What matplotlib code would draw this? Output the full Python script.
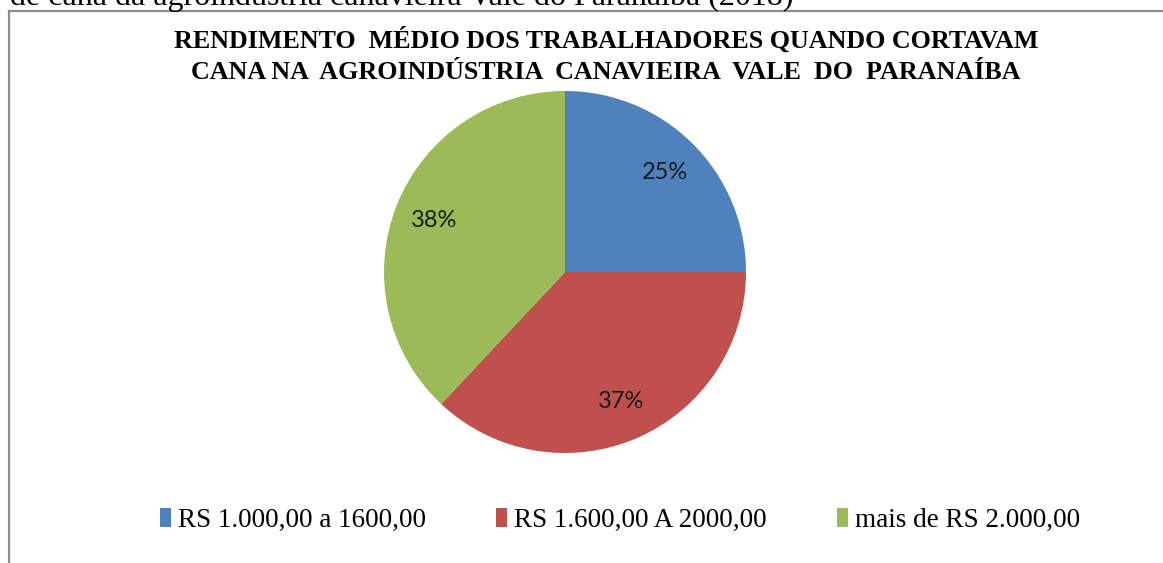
import matplotlib
matplotlib.use("Agg")
import matplotlib.pyplot as plt
from matplotlib.lines import Line2D

# data
faixas = ["RS 1.000,00 a 1600,00", "RS 1.600,00 A 2000,00", "mais de RS 2.000,00"]
percentuais = [25, 37, 38]
cores = ["#4F81BD", "#C0504D", "#9BBB59"]

titulo_l1 = "RENDIMENTO  MÉDIO DOS TRABALHADORES QUANDO CORTAVAM"
titulo_l2 = "CANA NA  AGROINDÚSTRIA  CANAVIEIRA  VALE  DO  PARANAÍBA"
legenda_sup = "de cana da agroindústria canavieira Vale do Paranaíba (2018)"

W, H = 1163, 563
fig = plt.figure(figsize=(W / 100, H / 100), dpi=100)

# caption line cut at the top of the page
fig.text(10 / W, 1 - 5 / H, legenda_sup, family="Liberation Serif", fontsize=23,
         ha="left", va="baseline")

# chart frame (only left and top edges are visible)
fig.add_artist(Line2D([9 / W, 9 / W], [0, 1 - 11 / H], transform=fig.transFigure,
                      color="#8c8c8c", lw=1.6))
fig.add_artist(Line2D([9 / W, 1], [1 - 11 / H, 1 - 11 / H], transform=fig.transFigure,
                      color="#8c8c8c", lw=1.6))

# pie centred at (565, 272) px with radius 181 px
cx, cy, r = 565, 272, 181
ax = fig.add_axes([(cx - r) / W, (H - cy - r) / H, 2 * r / W, 2 * r / H])
wedges, _, autotexts = ax.pie(percentuais, colors=cores, startangle=90, counterclock=False,
                              autopct="%1.0f%%", pctdistance=0.78,
                              wedgeprops=dict(linewidth=0))
for t in autotexts:
    t.set_family("Lato")
    t.set_fontsize(17)
    t.set_color("#1a1a1a")
ax.set_xlim(-1, 1)
ax.set_ylim(-1, 1)

fig.text(606 / W, 1 - 48 / H, titulo_l1, family="Liberation Serif", weight="bold",
         fontsize=18.7, ha="center", va="baseline")
fig.text(606 / W, 1 - 79 / H, titulo_l2, family="Liberation Serif", weight="bold",
         fontsize=18.7, ha="center", va="baseline")

fig.legend(wedges, faixas, loc="center", bbox_to_anchor=(620 / W, 1 - 520 / H),
           ncol=3, frameon=False, prop=dict(family="Liberation Serif", size=19.5),
           handlelength=0.4, handleheight=0.7, handletextpad=0.25, columnspacing=2.6)

fig.savefig("out.png", dpi=100)
